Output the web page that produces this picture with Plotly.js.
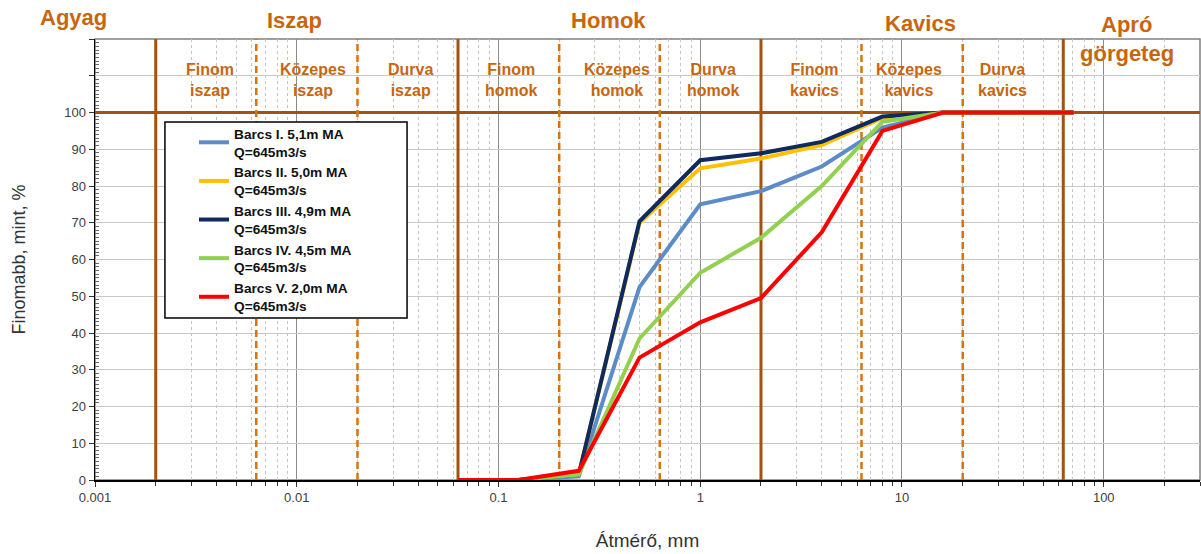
<!DOCTYPE html>
<html>
<head>
<meta charset="utf-8">
<script src="https://cdn.plot.ly/plotly-3.0.1.min.js"></script>
<style>html,body{margin:0;padding:0;background:#fff;}#chart{width:1201px;height:554px;}</style>
</head>
<body>
<div id="chart"></div>
<script>
// Sieve sizes (mm)
const sizes = [0.063, 0.125, 0.25, 0.5, 1, 2, 4, 8, 16, 71];
const seriesNames = [
  "Barcs I. 5,1m MA<br>Q=645m3/s",
  "Barcs II. 5,0m MA<br>Q=645m3/s",
  "Barcs III. 4,9m MA<br>Q=645m3/s",
  "Barcs IV. 4,5m MA<br>Q=645m3/s",
  "Barcs V. 2,0m MA<br>Q=645m3/s"
];
const barcsI   = [0, 0, 1.0, 52.5, 75.0, 78.6, 85.3, 95.9, 100, 100];
const barcsII  = [0, 0, 1.5, 70.0, 84.8, 87.5, 91.1, 98.5, 100, 100];
const barcsIII = [0, 0, 1.5, 70.4, 87.0, 88.9, 92.0, 98.9, 100, 100];
const barcsIV  = [0, 0, 1.5, 38.5, 56.4, 65.9, 80.0, 97.5, 100, 100];
const barcsV   = [0, 0, 2.5, 33.3, 42.9, 49.5, 67.4, 95.0, 100, 100];
const seriesColors = ["#5B8CC8", "#FFC000", "#0E2A5E", "#92D050", "#FF0000"];

// Fraction boundaries (mm) and the 100 % reference line
const mainBounds = [0.002, 0.063, 2, 63];
const subBounds = [0.0063, 0.02, 0.2, 0.63, 6.3, 20];
const boundSpan = [0, 120];
const xSpan = [0.001, 300];
const fullPassing = [100, 100];

// Tick labels
const xTickVals = [0.001, 0.01, 0.1, 1, 10, 100];
const xTickText = ["0.001", "0.01", "0.1", "1", "10", "100"];
const yTickVals = [0, 10, 20, 30, 40, 50, 60, 70, 80, 90, 100, 110, 120];
const yTickText = ["0", "10", "20", "30", "40", "50", "60", "70", "80", "90", "100", "", ""];

// Fraction labels
const mainLabels = ["Agyag", "Iszap", "Homok", "Kavics", "Apró", "görgeteg"];
const mainLabelX = [-0.0199, 0.1809, 0.4647, 0.7473, 0.9336, 0.9336];
const mainLabelY = [1.048, 1.043, 1.043, 1.036, 1.032, 0.968];
const subLabels = ["Finom<br>iszap", "Közepes<br>iszap", "Durva<br>iszap",
                   "Finom<br>homok", "Közepes<br>homok", "Durva<br>homok",
                   "Finom<br>kavics", "Közepes<br>kavics", "Durva<br>kavics"];
const subLabelX = [-2.428, -1.919, -1.434, -0.934, -0.415, 0.065, 0.565, 1.035, 1.496];

const BROWN = "#A3530F";
const ORANGE = "#D9730D";
const LABEL = "#C8660F";
const FONT = "Liberation Sans, Arial, sans-serif";

const traces = [];
traces.push({
  x: xSpan, y: fullPassing, mode: "lines", showlegend: false, hoverinfo: "skip",
  line: {color: BROWN, width: 3}
});
mainBounds.forEach(b => traces.push({
  x: [b, b], y: boundSpan, mode: "lines", showlegend: false, hoverinfo: "skip",
  line: {color: BROWN, width: 3}
}));
subBounds.forEach(b => traces.push({
  x: [b, b], y: boundSpan, mode: "lines", showlegend: false, hoverinfo: "skip",
  line: {color: ORANGE, width: 2.5, dash: "7px,4px"}
}));
[barcsI, barcsII, barcsIII, barcsIV, barcsV].forEach((vals, i) => traces.push({
  x: sizes, y: vals, name: seriesNames[i], mode: "lines",
  line: {color: seriesColors[i], width: 4}
}));

// minor grid / tick positions
const minorVals = [];
for (let e = -3; e <= 2; e++) for (let d = 2; d <= 9; d++) minorVals.push(d * Math.pow(10, e));
const yMinorVals = [];
for (let v = 1; v < 120; v++) if (v % 10 !== 0) yMinorVals.push(v);

const annotations = [];
mainLabels.forEach((t, i) => annotations.push({
  text: t, x: mainLabelX[i], y: mainLabelY[i], xref: "paper", yref: "paper",
  showarrow: false, xanchor: "center", yanchor: "middle",
  font: {family: FONT, size: 22, color: LABEL, weight: "bold"}
}));
subLabels.forEach((t, i) => annotations.push({
  text: t, x: subLabelX[i], y: 0.908, xref: "x", yref: "paper",
  showarrow: false, xanchor: "center", yanchor: "middle",
  font: {family: FONT, size: 16, color: LABEL, weight: "bold"}
}));

const layout = {
  width: 1201, height: 554,
  margin: {l: 95, r: 1, t: 39, b: 74},
  paper_bgcolor: "#fff", plot_bgcolor: "#fff",
  font: {family: FONT, color: "#404040"},
  showlegend: true,
  legend: {
    x: 0.0896, y: 0.8209, xanchor: "left", yanchor: "top",
    bgcolor: "rgba(0,0,0,0)", borderwidth: 0,
    font: {family: FONT, size: 13.7, color: "#111", weight: "bold"},
    tracegroupgap: 0
  },
  xaxis: {
    type: "log", range: [Math.log10(xSpan[0]), Math.log10(xSpan[1])],
    tickmode: "array", tickvals: xTickVals, ticktext: xTickText,
    tickfont: {size: 13, color: "#404040"},
    ticks: "outside", ticklen: 5, tickcolor: "#333",
    showgrid: true, gridcolor: "#8c8c8c", gridwidth: 1,
    showline: true, linecolor: "#000", linewidth: 1.5,
    zeroline: false,
    minor: {tickmode: "array", tickvals: minorVals, showgrid: true, gridcolor: "#c4c4c4",
            griddash: "dot", gridwidth: 1, ticks: "outside", ticklen: 4, tickcolor: "#333"},
    title: {text: "Átmérő, mm", font: {size: 19, color: "#333"}, standoff: 29}
  },
  yaxis: {
    range: boundSpan,
    tickmode: "array", tickvals: yTickVals, ticktext: yTickText,
    tickfont: {size: 13, color: "#404040"},
    ticks: "outside", ticklen: 5, tickcolor: "#333",
    showgrid: true, gridcolor: "#c8c8c8", gridwidth: 1,
    showline: true, linecolor: "#000", linewidth: 1.5,
    zeroline: false,
    minor: {tickmode: "array", tickvals: yMinorVals, ticks: "inside", ticklen: 4, tickwidth: 1, tickcolor: "#666", showgrid: false},
    title: {text: "Finomabb, mint, %", font: {size: 18, color: "#333"}, standoff: 34}
  },
  shapes: [
    {type: "rect", xref: "paper", yref: "paper", x0: 0, x1: 1, y0: 0, y1: 1,
     line: {color: "#808080", width: 1.5}, layer: "below"},
    {type: "rect", xref: "paper", yref: "paper", x0: 0.0633, x1: 0.2824, y0: 0.3673, y1: 0.8118,
     fillcolor: "#fff", line: {color: "#000", width: 1.5}, layer: "above"}
  ],
  annotations: annotations
};

Plotly.newPlot("chart", traces, layout, {displayModeBar: false, staticPlot: true});
</script>
</body>
</html>
